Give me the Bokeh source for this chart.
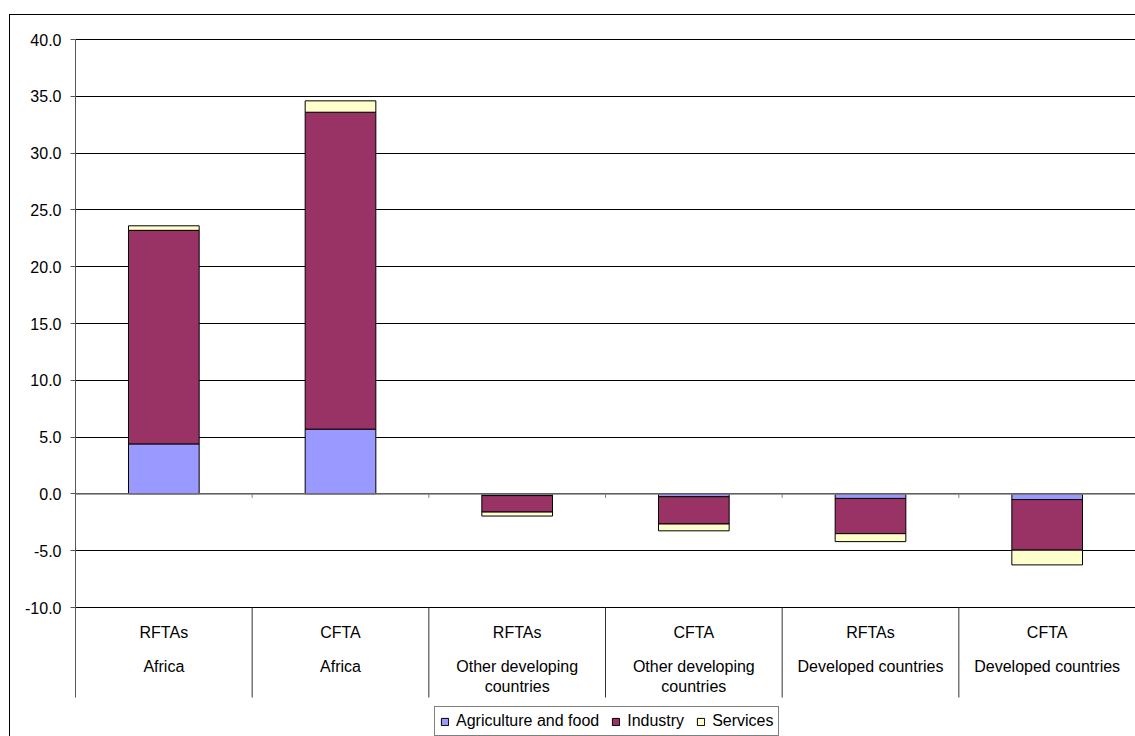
from bokeh.plotting import figure
from bokeh.models import (ColumnDataSource, FixedTicker, LinearAxis, Range1d, Span,
                          Legend, LegendItem, PrintfTickFormatter)
from bokeh.core.properties import value
from bokeh.embed import file_html
from bokeh.resources import INLINE

# ---- data ----
scenarios = ["RFTAs", "CFTA", "RFTAs", "CFTA", "RFTAs", "CFTA"]
regions = ["Africa", "Africa", "Other developing\ncountries", "Other developing\ncountries",
           "Developed countries", "Developed countries"]
agriculture = [4.4, 5.7, -0.15, -0.25, -0.4, -0.5]
industry = [18.8, 27.9, -1.45, -2.4, -3.1, -4.45]
services = [0.4, 1.0, -0.35, -0.6, -0.7, -1.3]
series_names = ["Agriculture and food", "Industry", "Services"]
series_colors = ["#9999FF", "#993366", "#FFFFCC"]
y_ticks = [-10, -5, 0, 5, 10, 15, 20, 25, 30, 35, 40]

FONT = "Liberation Sans"
FS = "16px"

# vertical scale: 40 sits at screen y=39, -10 at y=607 (11.36 px per unit)
PPU = 568 / 50.0
def ydata(sy):
    return 40 - (sy - 39) / PPU

xs = list(range(1, len(scenarios) + 1))
bounds = [x - 0.5 for x in xs]
src = ColumnDataSource(dict(x=xs, agri=agriculture, ind=industry, serv=services))

p = figure(width=1135, height=736, output_backend="svg", toolbar_location=None,
           x_range=Range1d(0.5, len(xs) + 0.5), y_range=Range1d(ydata(736), ydata(38)),
           x_axis_location=None, y_axis_location=None,
           min_border_left=75, min_border_right=0, min_border_top=38, min_border_bottom=0)
p.outline_line_color = None
p.background_fill_color = "white"
p.border_fill_color = None
# outer chart-area border (top and left edges visible inside the window)
p.styles = {
    "background": "linear-gradient(#000, #000) 9px 14px / 1px calc(100% - 14px) no-repeat, "
                  "linear-gradient(#000, #000) 9px 14px / calc(100% - 9px) 1px no-repeat, #fff",
}

# y axis (line continues down through the category-label area)
yax = LinearAxis(ticker=FixedTicker(ticks=y_ticks), formatter=PrintfTickFormatter(format="%.1f"))
yax.axis_line_color = "#555555"
yax.bounds = (ydata(697), 40)
yax.major_tick_line_color = "#555555"
yax.major_tick_out = 5
yax.major_tick_in = 0
yax.minor_tick_line_color = None
yax.major_label_text_font = FONT
yax.major_label_text_font_size = FS
yax.major_label_text_color = "black"
yax.major_label_standoff = 9
p.add_layout(yax, "left")

p.ygrid.ticker = FixedTicker(ticks=y_ticks)
p.ygrid.grid_line_color = "black"
p.ygrid.grid_line_width = 1
p.xgrid.grid_line_color = None

# category separators below the plot area
p.segment(x0=bounds[1:], x1=bounds[1:], y0=-10, y1=ydata(697), line_color="#333333", line_width=1)

# category labels (two levels)
p.text(x=xs, y=[ydata(632)] * len(xs), text=scenarios, text_align="center",
       text_baseline="middle", text_font=value(FONT), text_font_size=FS, text_color="black")
lx, ly, lt = [], [], []
for x, r in zip(xs, regions):
    for j, ln in enumerate(r.split("\n")):
        lx.append(x)
        ly.append(ydata(666 + 20 * j))
        lt.append(ln)
p.text(x=lx, y=ly, text=lt, text_align="center", text_baseline="middle",
       text_font=value(FONT), text_font_size=FS, text_color="black")

rs = p.vbar_stack(["agri", "ind", "serv"], x="x", width=0.4, source=src,
                  fill_color=series_colors, line_color="black", line_width=1)

# zero axis line with small ticks
p.add_layout(Span(location=0, dimension="width", line_color="#808080", line_width=1.5))
p.segment(x0=bounds[1:], x1=bounds[1:], y0=0, y1=-0.35, line_color="#808080", line_width=1)

# legend
legend = Legend(items=[LegendItem(label=n, renderers=[r]) for n, r in zip(series_names, rs)],
                location=(359, 0), orientation="horizontal")
legend.border_line_color = "black"
legend.border_line_width = 1
legend.background_fill_color = "white"
legend.label_text_font = FONT
legend.label_text_font_size = FS
legend.label_text_color = "black"
legend.glyph_width = 9
legend.glyph_height = 9
legend.label_height = 16
legend.label_standoff = 7
legend.spacing = 12
legend.padding = 5
legend.margin = 0
p.add_layout(legend, "center")

open("out.html", "w").write(file_html(p, INLINE))
